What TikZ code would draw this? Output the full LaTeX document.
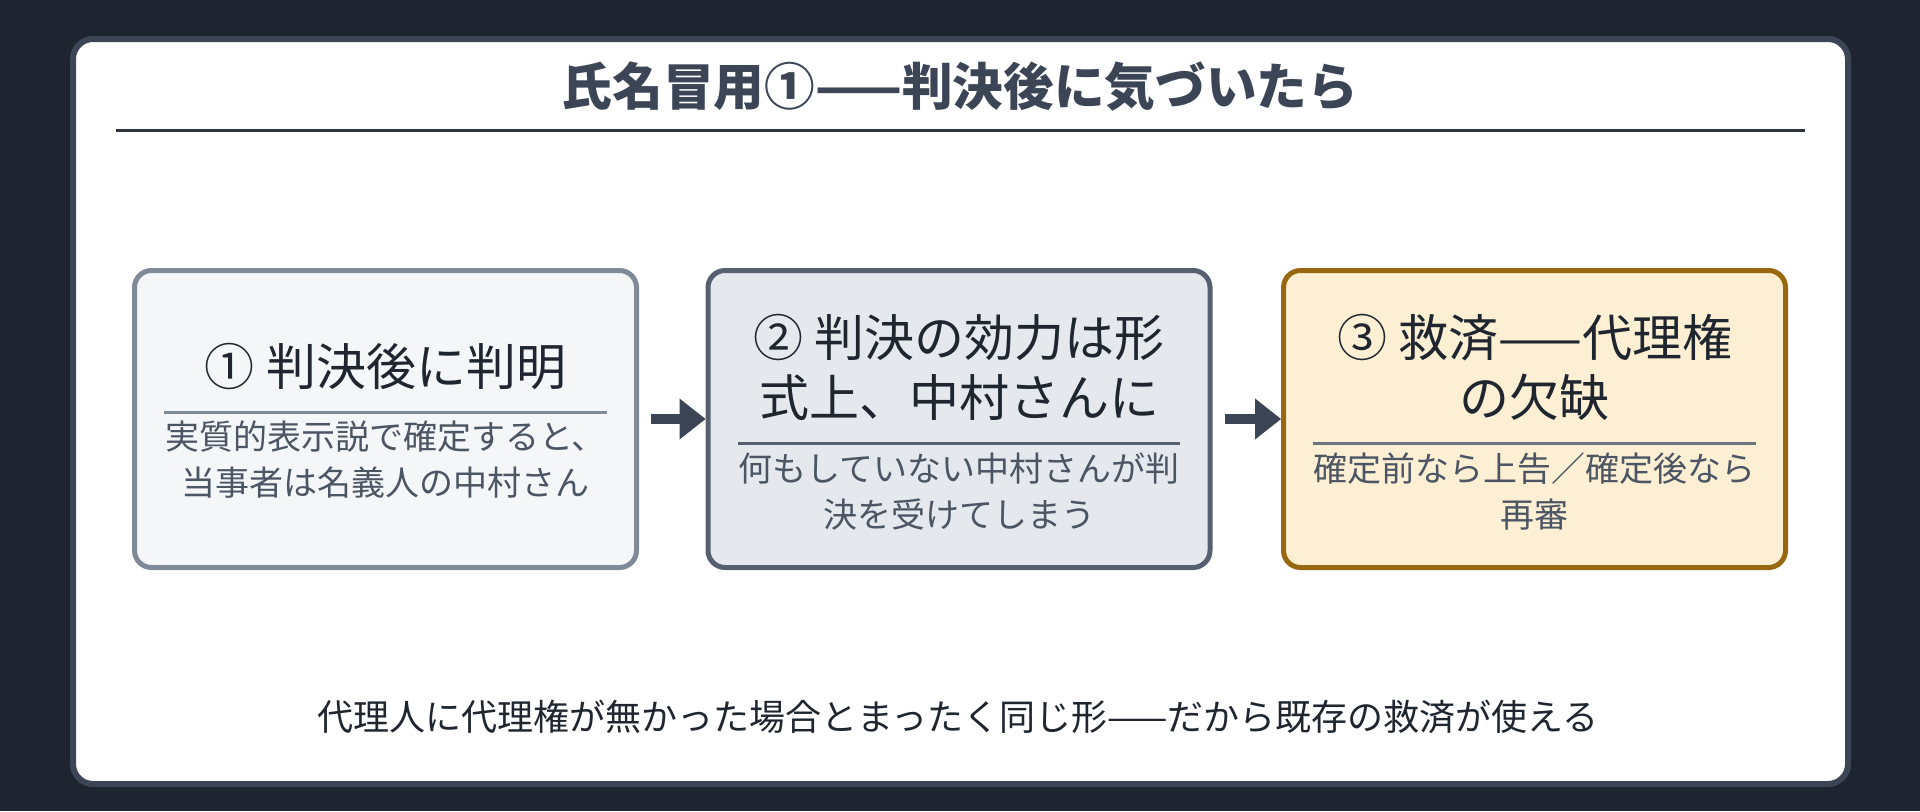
\documentclass[tikz,border=0pt]{standalone}
\usepackage{fontspec}
\setmainfont{Noto Sans CJK JP}
\newfontfamily\jp{Noto Sans CJK JP}
\definecolor{bgc}{HTML}{1E2430}
\definecolor{cardb}{HTML}{3B4556}
\definecolor{rulec}{HTML}{2D3440}
\definecolor{ink}{HTML}{1F2630}
\definecolor{subink}{HTML}{4B5563}
\definecolor{fillA}{HTML}{F4F6F8}
\definecolor{drawA}{HTML}{7F8A99}
\definecolor{fillB}{HTML}{E5E8ED}
\definecolor{drawB}{HTML}{566070}
\definecolor{fillC}{HTML}{FCEFD4}
\definecolor{drawC}{HTML}{97680F}
\definecolor{divC}{HTML}{6B7280}
\tikzset{
  stepbox/.style={draw, rectangle, rounded corners=12.75pt, line width=3.75pt,
    minimum width=376.5pt, minimum height=222.75pt, inner sep=0pt},
  boxA/.style={stepbox, fill=fillA, draw=drawA},
  boxB/.style={stepbox, fill=fillB, draw=drawB},
  boxC/.style={stepbox, fill=fillC, draw=drawC},
  boxtitle/.style={align=center, inner sep=0pt, text=ink,
    font={\jp\fontsize{37.5pt}{45pt}\selectfont}},
  boxsub/.style={align=center, inner sep=0pt, text=subink,
    font={\jp\fontsize{25.5pt}{34.5pt}\selectfont}},
  divline/.style={line width=2.25pt},
  shaft/.style={draw=cardb, line width=8pt},
  headc/.style={fill=cardb},
}
\begin{document}
\begin{tikzpicture}[x=0.75pt,y=-0.75pt]
\useasboundingbox (0,0) rectangle (1920,811);
\fill[bgc] (0,0) rectangle (1920,811);
\draw[cardb, line width=4.5pt, fill=white, rounded corners=15pt] (73,39) rectangle (1848,784);
% title
\node[inner sep=0pt, text=cardb, font={\jp\bfseries\fontsize{38pt}{45pt}\selectfont}] (title) at (960,87) {氏名冒用①——判決後に気づいたら};
\draw[rulec, line width=2.25pt] (116,130) -- (1805,130);
% boxes
\node[boxA] (b1) at (385.5,419) {};
\node[boxB] (b2) at (959,419) {};
\node[boxC] (b3) at (1534.5,419) {};
% box 1
\node[boxtitle] (t1) at (385.5,367) {① 判決後に判明};
\draw[divline, drawA] (164,412) -- (607,412);
\node[boxsub] (s1) at (385.5,460) {実質的表示説で確定すると、\\当事者は名義人の中村さん};
% box 2
\node[boxtitle] (t2) at (959,367) {② 判決の効力は形\\式上、中村さんに};
\draw[divline, drawB] (738,443) -- (1180,443);
\node[boxsub] (s2) at (959,492) {何もしていない中村さんが判\\決を受けてしまう};
% box 3
\node[boxtitle] (t3) at (1534.5,367) {③ 救済——代理権\\の欠缺};
\draw[divline, divC] (1313,443) -- (1756,443);
\node[boxsub] (s3) at (1534.5,492) {確定前なら上告／確定後なら\\再審};
% arrows
\draw[shaft] ([xshift=9pt]b1.east) -- ([xshift=-19pt]b2.west);
\fill[headc] ([xshift=-19.5pt,yshift=15.4pt]b2.west) -- (b2.west) -- ([xshift=-19.5pt,yshift=-15.4pt]b2.west) -- cycle;
\draw[shaft] ([xshift=9pt]b2.east) -- ([xshift=-19pt]b3.west);
\fill[headc] ([xshift=-19.5pt,yshift=15.4pt]b3.west) -- (b3.west) -- ([xshift=-19.5pt,yshift=-15.4pt]b3.west) -- cycle;
% bottom note
\node[inner sep=0pt, text=ink, font={\jp\fontsize{27pt}{32pt}\selectfont}] (note) at (958,717) {代理人に代理権が無かった場合とまったく同じ形——だから既存の救済が使える};
\end{tikzpicture}
\end{document}
